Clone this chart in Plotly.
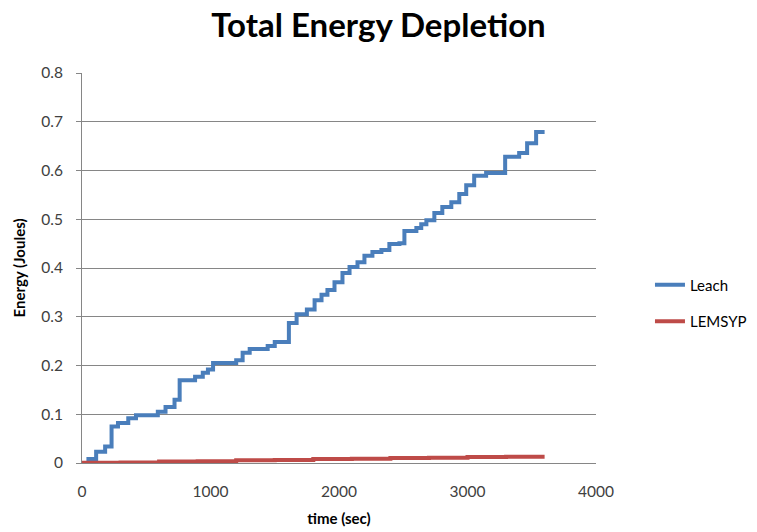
import plotly.graph_objects as go

# Leach: cumulative energy depletion (step changes)
leach_time = [0, 50, 110, 180, 230, 280, 360, 420, 590, 650, 720, 760, 880, 940, 980,
              1020, 1200, 1250, 1305, 1445, 1500, 1610, 1670, 1750, 1810, 1864, 1910,
              1965, 2027, 2082, 2144, 2198, 2260, 2330, 2392, 2470, 2509, 2602, 2640,
              2680, 2742, 2804, 2874, 2936, 2990, 3052, 3145, 3293, 3402, 3464, 3534, 3600]
leach_energy = [0.0, 0.008, 0.023, 0.034, 0.075, 0.082, 0.092, 0.098, 0.105, 0.115, 0.13,
                0.17, 0.177, 0.185, 0.192, 0.205, 0.211, 0.226, 0.234, 0.24, 0.248, 0.287,
                0.305, 0.315, 0.334, 0.345, 0.355, 0.371, 0.39, 0.402, 0.412, 0.425, 0.433,
                0.437, 0.449, 0.451, 0.476, 0.482, 0.49, 0.498, 0.513, 0.525, 0.535, 0.552,
                0.57, 0.589, 0.595, 0.628, 0.636, 0.656, 0.679, 0.679]

# LEMSYP: cumulative energy depletion
lemsyp_time = [0, 300, 600, 900, 1200, 1500, 1800, 2100, 2400, 2700, 3000, 3300, 3600]
lemsyp_energy = [0.0005, 0.001, 0.003, 0.0035, 0.0055, 0.006, 0.008, 0.0085, 0.0105,
                 0.011, 0.0125, 0.013, 0.013]

x_ticks = [0, 1000, 2000, 3000, 4000]
y_ticks = [0, 0.1, 0.2, 0.3, 0.4, 0.5, 0.6, 0.7, 0.8]

FONT = "Lato"
GRID = "#868686"
TXT = "#404040"

fig = go.Figure()
fig.add_trace(go.Scatter(x=leach_time, y=leach_energy, mode="lines", name="Leach",
                         line=dict(color="#4a7ebb", width=4, shape="hv"),
                         legendgroup="a"))
fig.add_trace(go.Scatter(x=lemsyp_time, y=lemsyp_energy, mode="lines", name="LEMSYP",
                         line=dict(color="#be4b48", width=4, shape="hv"),
                         legendgroup="b"))

fig.update_layout(
    width=757, height=532,
    margin=dict(l=82, r=161, t=73, b=69, autoexpand=False),
    paper_bgcolor="white", plot_bgcolor="white",
    font=dict(family=FONT, color=TXT, size=15),
    title=dict(text="<b>Total Energy Depletion</b>", x=0.5, xanchor="center",
               y=0.952, yanchor="middle",
               font=dict(family=FONT, size=33, color="#000000")),
    legend=dict(x=1.105, xanchor="left", y=0.41, yanchor="middle",
                font=dict(family=FONT, size=15, color="#000000"),
                tracegroupgap=14, bgcolor="rgba(0,0,0,0)"),
    showlegend=True,
)
fig.update_xaxes(range=[0, 4000], tickvals=x_ticks, ticktext=[str(v) for v in x_ticks],
                 showgrid=False, zeroline=False, showline=True, linecolor=GRID,
                 linewidth=1, ticks="", ticklabelstandoff=14, automargin=False,
                 tickfont=dict(size=15.5, color=TXT),
                 title=dict(text="<b>time (sec)</b>", standoff=14,
                            font=dict(size=15, color="#000000")))
fig.update_yaxes(range=[0, 0.8], tickvals=y_ticks,
                 ticktext=["0" if v == 0 else f"{v:.1f}" for v in y_ticks],
                 showgrid=True, gridcolor=GRID, gridwidth=1, zeroline=False,
                 showline=True, linecolor=GRID, linewidth=1, automargin=False,
                 ticks="outside", ticklen=5, tickcolor=GRID, ticklabelstandoff=10,
                 tickfont=dict(size=15.5, color=TXT),
                 title=dict(text="<b>Energy (Joules)</b>", standoff=12,
                            font=dict(size=15, color="#000000")))

fig.write_html("out.html")
